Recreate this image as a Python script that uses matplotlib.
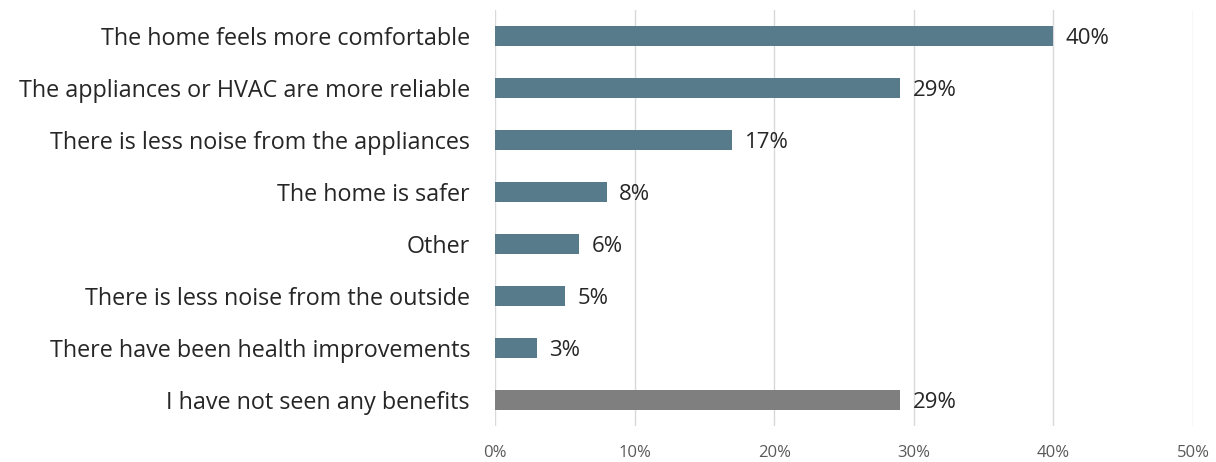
import matplotlib
matplotlib.use("Agg")
import matplotlib.pyplot as plt

categories = [
    "The home feels more comfortable",
    "The appliances or HVAC are more reliable",
    "There is less noise from the appliances",
    "The home is safer",
    "Other",
    "There is less noise from the outside",
    "There have been health improvements",
    "I have not seen any benefits",
]
values = [40, 29, 17, 8, 6, 5, 3, 29]
tick_values = [0, 10, 20, 30, 40, 50]
bar_colors = ["#587b8c"] * 7 + ["#7f7f7f"]

plt.rcParams["font.family"] = ["Open Sans", "DejaVu Sans"]

fig = plt.figure(figsize=(12.16, 4.62), dpi=100)
ax = fig.add_axes([495 / 1216, 1 - 426 / 462, (1193 - 495) / 1216, (426 - 10) / 462])

y = list(range(len(categories)))
ax.barh(y, values, height=0.37, color=bar_colors, zorder=3)
for yi, v in zip(y, values):
    ax.text(v + 0.9, yi + 0.05, f"{v}%", va="center", ha="left", fontsize=16, color="#262626")

ax.set_ylim(len(categories) - 0.5, -0.5)
ax.set_xlim(0, 50)
ax.set_yticks(y)
ax.set_yticklabels(categories, fontsize=16.8, color="#262626")
ax.set_xticks(tick_values)
ax.set_xticklabels([f"{t}%" for t in tick_values], fontsize=12, color="#595959")
ax.tick_params(axis="y", length=0, pad=18)
ax.tick_params(axis="x", length=0, pad=14)
ax.grid(axis="x", color="#d9d9d9", linewidth=1, zorder=0)
for s in ax.spines.values():
    s.set_visible(False)

fig.savefig("out.png", dpi=100, facecolor="white")
